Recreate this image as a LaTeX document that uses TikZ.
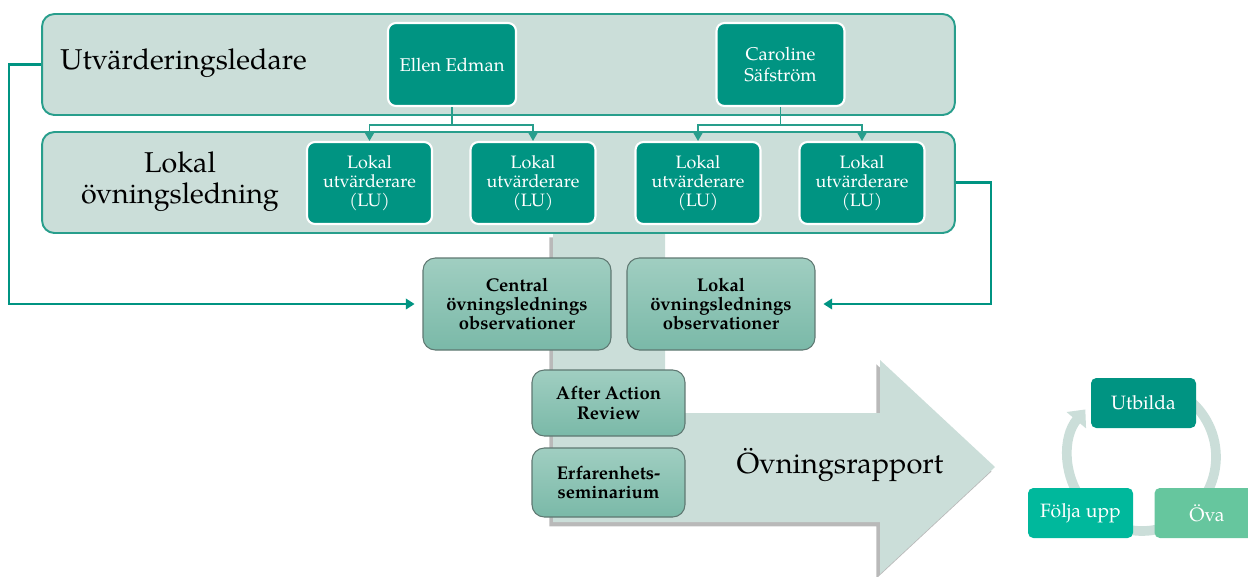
\documentclass[tikz,border=0pt]{standalone}
\usepackage{fontspec}
\setmainfont{texgyrepagella}[Extension=.otf,UprightFont=*-regular,BoldFont=*-bold,ItalicFont=*-italic,BoldItalicFont=*-bolditalic]
\usetikzlibrary{arrows.meta,shadows,positioning}
\definecolor{tealdark}{RGB}{0,148,130}
\definecolor{tealline}{RGB}{40,158,140}
\definecolor{bandfill}{RGB}{203,222,217}
\definecolor{obstop}{RGB}{160,206,193}
\definecolor{obsbot}{RGB}{122,185,168}
\definecolor{obsline}{RGB}{95,120,114}
\definecolor{foljafill}{RGB}{0,184,156}
\definecolor{ovafill}{RGB}{102,198,158}

\begin{document}
\begin{tikzpicture}[x=0.02cm,y=-0.02cm,
  band/.style={draw=tealline,line width=1.1pt,fill=bandfill,rounded corners=7pt,inner sep=0pt,minimum width=18.26cm,minimum height=2.02cm},
  person/.style={draw=white,line width=1.2pt,fill=tealdark,rounded corners=4.5pt,inner sep=0pt,text=white,align=center,font=\fontsize{10.5}{12}\selectfont,minimum width=2.56cm,minimum height=1.66cm},
  lubox/.style={person,minimum width=2.5cm,minimum height=1.64cm,font=\fontsize{10.2}{11}\selectfont},
  obsbox/.style={draw=obsline,line width=0.6pt,top color=obstop,bottom color=obsbot,rounded corners=7pt,inner sep=0pt,align=center,font=\fontsize{10.5}{11}\selectfont\bfseries},
  stepbox/.style={rounded corners=3pt,inner sep=0pt,text=white,minimum width=2.1cm,minimum height=1cm,font=\fontsize{11}{12}\selectfont},
  tree/.style={draw=tealline,line width=0.7pt,-{Triangle[width=5pt,length=4.5pt]}},
  conn/.style={draw=tealdark,line width=1.2pt,-{Triangle[width=6pt,length=5pt]},shorten >=4.5pt}]
\useasboundingbox (0,0) rectangle (1248,576);

% report arrow
\fill[bandfill,drop shadow={shadow xshift=-2pt,shadow yshift=-2.5pt,opacity=0.55}]
  (553,233) -- (553,522) -- (880,522) -- (880,574) -- (995,467) -- (880,360)
  -- (880,413) -- (665,413) -- (665,233) -- cycle;
\node[font=\fontsize{16.5}{19}\selectfont] (rapport) at (840,465) {Övningsrapport};

% bands
\node[band] (utvband) at (498.5,64.5) {};
\node[band] (lokband) at (498.5,182.5) {};
\node[anchor=west,inner sep=0pt,font=\fontsize{16.3}{19}\selectfont] (utvlabel) at (60,63) {Utvärderingsledare};
\node[align=center,inner sep=0pt,font=\fontsize{16.3}{17.5}\selectfont] (loklabel) at (180,182) {Lokal\\övningsledning};

\node[person] (ellen) at (452,64.5) {Ellen Edman};
\node[person] (caroline) at (780.5,64.5) {Caroline\\Säfström};

\node[lubox] (lu1) at (369.5,183) {Lokal\\utvärderare\\(LU)};
\node[lubox] (lu2) at (533,183) {Lokal\\utvärderare\\(LU)};
\node[lubox] (lu3) at (698,183) {Lokal\\utvärderare\\(LU)};
\node[lubox] (lu4) at (862,183) {Lokal\\utvärderare\\(LU)};

\draw[tree] (ellen.south) -- ++(0,18) -| (lu1.north);
\draw[tree] (ellen.south) -- ++(0,18) -| (lu2.north);
\draw[tree] (caroline.south) -- ++(0,18) -| (lu3.north);
\draw[tree] (caroline.south) -- ++(0,18) -| (lu4.north);

% observations
\node[obsbox,minimum width=3.76cm,minimum height=1.84cm] (central) at (517,304) {Central\\övningslednings\\observationer};
\node[obsbox,minimum width=3.76cm,minimum height=1.84cm] (lokobs) at (721,304) {Lokal\\övningslednings\\observationer};
\node[obsbox,minimum width=3.06cm,minimum height=1.32cm] (aar) at (608.5,403) {After Action\\Review};
\node[obsbox,minimum width=3.06cm,minimum height=1.38cm] (erf) at (608.5,482.5) {Erfarenhets-\\seminarium};

\draw[conn] (utvband.west) -- ++(-32,0) |- (central.west);
\draw[conn] (lokband.east) -- ++(35,0) |- (lokobs.east);

% cycle
\coordinate (cyc) at (1142,457);
\draw[bandfill,line width=5.5pt,-{Triangle[width=14pt,length=8pt]}]
  ([shift={(130:1.48cm)}]cyc) arc[start angle=130,end angle=-220,radius=1.48cm];
\node[stepbox,fill=tealdark] (utbilda) at (1143.5,403) {Utbilda};
\node[stepbox,fill=foljafill] (folja) at (1080.5,513) {Följa upp};
\node[stepbox,fill=ovafill] (ova) at (1207,513) {Öva};
\end{tikzpicture}
\end{document}
